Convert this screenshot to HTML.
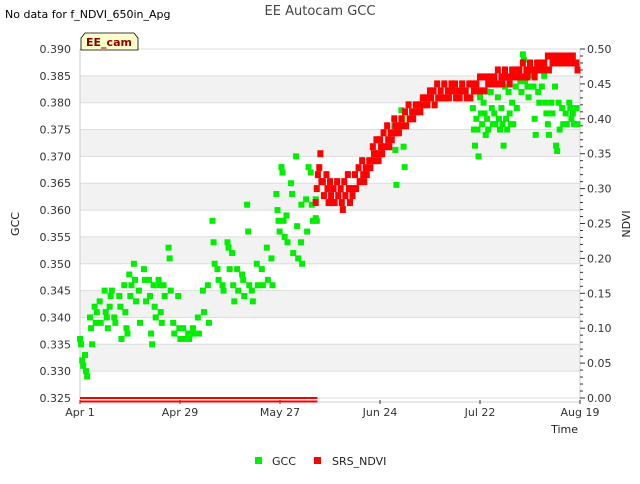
<!DOCTYPE html>
<html><head><meta charset="utf-8"><style>
body{margin:0;background:#fff;font-family:"DejaVu Sans","Liberation Sans",sans-serif;}
svg text{font-family:"DejaVu Sans","Liberation Sans",sans-serif;}
</style></head><body>
<svg id="chart" width="640" height="480" xmlns="http://www.w3.org/2000/svg">
<text x="5" y="18" font-size="11" fill="#000">No data for f_NDVI_650in_Apg</text>
<text x="320" y="15" font-size="13" fill="#444" text-anchor="middle">EE Autocam GCC</text>
<g id="bands"></g>
<g id="axes"></g>
<g id="marks"></g>
<path d="M81,50 L81,38 L85,33 L134,33 L138,38 L138,50 Z" fill="#ffffcc" stroke="#000" stroke-width="0.8"/>
<text x="109" y="46" font-size="11" font-weight="bold" fill="#8b0000" text-anchor="middle">EE_cam</text>
<text x="19" y="224" font-size="11" fill="#222" text-anchor="middle" transform="rotate(-90 19 224)">GCC</text>
<text x="630" y="224" font-size="11" fill="#222" text-anchor="middle" transform="rotate(-90 630 224)">NDVI</text>
<text x="578" y="433" font-size="11" fill="#222" text-anchor="end">Time</text>
<rect x="255" y="457" width="7" height="7" fill="#00ee00"/>
<text x="272" y="465" font-size="11" fill="#222">GCC</text>
<rect x="314" y="457" width="7" height="7" fill="#ff0000"/>
<text x="332" y="465" font-size="11" fill="#222">SRS_NDVI</text>
</svg>
<script>
const gccTicks=[0.325,0.330,0.335,0.340,0.345,0.350,0.355,0.360,0.365,0.370,0.375,0.380,0.385,0.390];
const ndviTicks=[0.00,0.05,0.10,0.15,0.20,0.25,0.30,0.35,0.40,0.45,0.50];
const dateLabels=["Apr 1","Apr 29","May 27","Jun 24","Jul 22","Aug 19"];
const dateDays=[0,28,56,84,112,140];
const gccDays=[0,1.4,2.8,4.1,5.5,6.9,8.3,9.6,11,12.4,13.8,15.1,16.5,17.9,19.3,20.6,22,23.4,24.8,26.1,27.5,28.9,30.3,31.6,33,34.4,35.8,37.1,38.5,39.9,41.3,42.6,44,45.4,46.8,48.1,49.5,50.9,52.3,53.6,55,56.4,57.8,59.1,60.5,61.9,63.3,64.6,66,62,64,66,88,90,110,111,112,113,114,115,116,117,118,119,120,121,122,123,124,125,126,127,128,129,130,131,132,133,134,135,136,137,138,139];
const gccVals=[[.336,.335,.332,.331],[.333,.330,.329],[.340,.338,.335],[.342,.339,.341],[.343,.339],[.345,.341,.340,.338],[.342,.344,.345],[.340,.339],[.344,.342,.336],[.346,.341,.338,.337],[.348,.344,.346],[.350,.347,.343],[.345,.339],[.349,.347,.343],[.347,.344,.337,.335],[.346,.342,.340],[.347,.346,.341,.339],[.346,.344],[.353,.351,.345],[.339,.337],[.344,.338,.336],[.338,.336],[.337,.336],[.338,.337],[.340,.337],[.345,.341],[.346,.339],[.358,.354,.350],[.349,.347],[.346,.345],[.354,.353,.349],[.352,.346,.343],[.349,.345],[.348,.347,.344],[.361,.356,.346],[.345,.343],[.350,.346],[.349,.346],[.353,.347],[.351,.346],[.363,.360,.358,.356],[.368,.367,.358,.355],[.359,.354],[.365,.363,.352],[.370,.357,.351],[.354,.350],[.362,.356],[.367,.361,.358],[.362,.358],[.361],[.368],[.3585],[.3757,.3712,.3647],[.3786,.3770,.3718,.368],[.379,.375,.372],[.377,.375,.370],[.381,.378,.376],[.380,.378,.374],[.377,.375],[.382,.379,.376],[.378,.376],[.381,.377,.375],[.379,.376,.372],[.383,.377,.375],[.382,.378,.376],[.380,.376],[.383,.379],[.386,.384,.382],[.389,.388,.384],[.386,.383,.381],[.385,.383],[.383,.377,.374],[.386,.382,.380],[.387,.383],[.385,.380,.378],[.376,.374],[.380,.378],[.383,.372,.371],[.380,.375],[.379,.376],[.378,.376],[.380,.379,.377],[.378,.376],[.379,.376]];
const ndviDays=[66,67,68,69,70,71,72,73,74,75,76,77,78,79,80,81,82,83,84,85,86,87,88,89,90,91,92,93,94,95,96,97,98,99,100,101,102,103,104,105,106,107,108,109,110,111,112,113,114,115,116,117,118,119,120,121,122,123,124,125,126,127,128,129,130,131,132,133,134,135,136,137,138,139];
const ndviVals=[[.28,.30,.32],[.33,.35,.31],[.31,.29],[.32,.30,.28],[.31,.29,.28],[.30,.28],[.31,.29],[.30,.28,.27],[.31,.29],[.32,.30,.28],[.30,.29],[.32,.30],[.33,.31],[.34,.32,.31],[.33,.32],[.34,.33],[.36,.35,.34],[.37,.35,.34],[.37,.36,.35],[.38,.36],[.39,.37,.36],[.38,.37],[.40,.39,.38],[.39,.38],[.40,.39],[.41,.39],[.42,.40],[.41,.40],[.42,.41],[.42,.41],[.43,.42],[.43,.42],[.44,.43],[.44,.42],[.45,.43],[.44,.43],[.45,.43],[.44,.43],[.45,.44],[.45,.43],[.44,.43],[.45,.44],[.44,.43],[.45,.43],[.45,.44],[.45,.44],[.46,.44],[.46,.44],[.46,.45],[.46,.45],[.46,.45],[.47,.45],[.46,.45],[.47,.46],[.46,.45],[.47,.46],[.47,.46],[.47,.46],[.48,.46],[.47,.46],[.48,.47],[.47,.46],[.48,.47],[.48,.47],[.48,.47],[.49,.47],[.49,.48],[.49,.48],[.49,.48],[.49,.48],[.49,.48],[.49,.48],[.49,.48],[.48,.47]];
const zeroLineEndDay=66.5;

const NS="http://www.w3.org/2000/svg";
const X0=80,X1=580,Y0=398,Y1=49;
const xS=d=>X0+(X1-X0)*d/140;
const yG=v=>Y0-(Y0-Y1)*(v-0.325)/0.065;
const yN=v=>Y0-(Y0-Y1)*v/0.5;
function mk(tag,attrs,parent){const e=document.createElementNS(NS,tag);for(const k in attrs)e.setAttribute(k,attrs[k]);parent.appendChild(e);return e;}
const bands=document.getElementById('bands'),axes=document.getElementById('axes'),marks=document.getElementById('marks');
for(let i=0;i<gccTicks.length-1;i++){
  if(i%2===1){const r=mk('rect',{x:X0,y:yG(gccTicks[i+1]),width:X1-X0,height:yG(gccTicks[i])-yG(gccTicks[i+1]),fill:'#f2f2f2'},bands);
  
  }
}
gccTicks.forEach(t=>{const l=mk('line',{x1:X0,x2:X1,y1:yG(t),y2:yG(t),stroke:'#dddddd','stroke-width':1},bands);

});
mk('line',{x1:X0,x2:X0,y1:Y1,y2:Y0+4,stroke:'#ccc'},axes);
gccTicks.forEach(t=>{const tx=mk('text',{x:71,y:yG(t)+4,'font-size':11,fill:'#333','text-anchor':'end'},axes);tx.textContent=t.toFixed(3);

});
mk('line',{x1:X1,x2:X1,y1:Y1,y2:Y0+4,stroke:'#ccc'},axes);
for(let i=0;i<=50;i++){const v=i/100;mk('line',{x1:X1,x2:X1+(i%5===0?5:3),y1:yN(v),y2:yN(v),stroke:'#333'},axes);}
ndviTicks.forEach(t=>{const tx=mk('text',{x:587,y:yN(t)+4,'font-size':11,fill:'#333'},axes);tx.textContent=t.toFixed(2);

});
mk('line',{x1:X0,x2:X1,y1:Y0+4,y2:Y0+4,stroke:'#ccc'},axes);
dateDays.forEach((d,i)=>{mk('line',{x1:xS(d),x2:xS(d),y1:Y0+2,y2:Y0+6,stroke:'#333'},axes);
const tx=mk('text',{x:xS(d),y:416,'font-size':11,fill:'#333','text-anchor':'middle'},axes);tx.textContent=dateLabels[i];

});
[0.0,-0.005].forEach(v=>{const l=mk('line',{x1:X0,x2:xS(zeroLineEndDay),y1:yN(v),y2:yN(v),stroke:'#ff0000','stroke-width':2},marks);

});
gccDays.forEach((d,i)=>{gccVals[i].forEach((v,j)=>{const dd=d+j*0.3;
const r=mk('rect',{x:xS(dd)-3,y:yG(v)-3,width:6,height:6,fill:'#00ee00'},marks);

});});
ndviDays.forEach((d,i)=>{ndviVals[i].forEach((v,j)=>{const dd=d+j*0.3;
const r=mk('rect',{x:xS(dd)-3,y:yN(v)-3.5,width:6,height:7,fill:'#ff0000'},marks);

});});
</script>
</body></html>
